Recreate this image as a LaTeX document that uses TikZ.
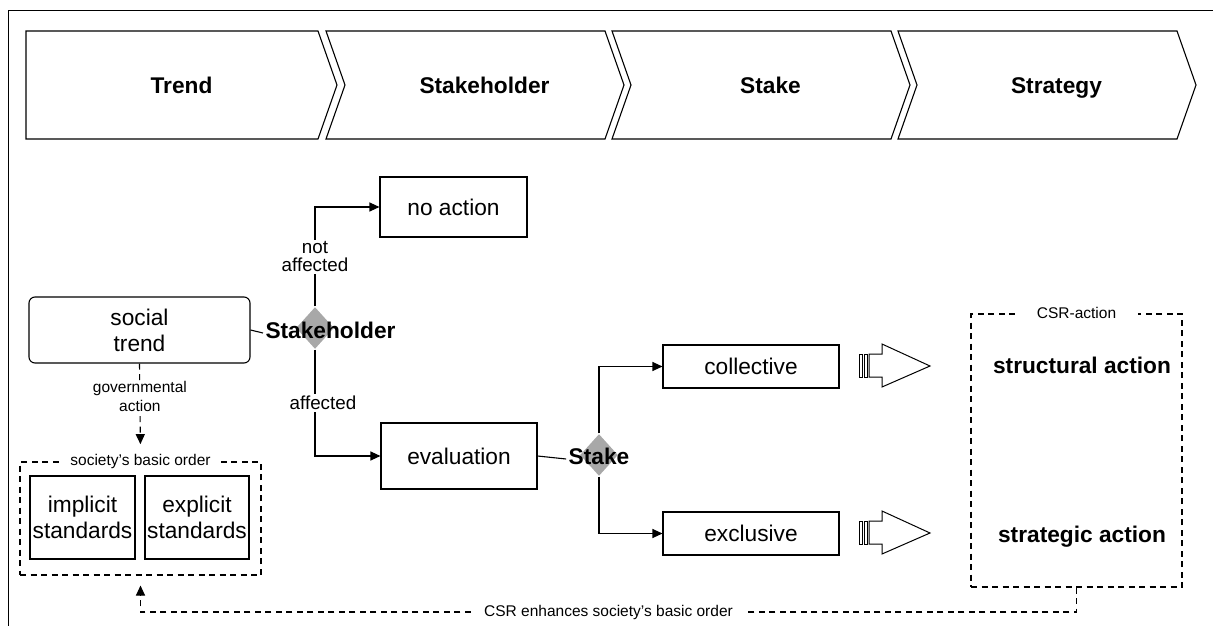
\documentclass[tikz,border=0pt]{standalone}
\usepackage{fontspec}
\setmainfont{Liberation Sans}
\usepackage{tikz}
\usetikzlibrary{arrows.meta,shapes.geometric}

\begin{document}
\begin{tikzpicture}[x=1pt,y=-1pt,>={Triangle[length=10pt,width=9pt]},
                    line width=1.1pt]
  \tikzstyle{box}=[draw, anchor=center, inner sep=0pt, align=center,
                   font=\fontsize{22.7}{26}\selectfont]
  \tikzstyle{frame}=[draw, dash pattern=on 6pt off 4.5pt, inner sep=0pt]
  \tikzstyle{lab}=[fill=white, anchor=center, align=center, inner sep=2pt,
                   font=\fontsize{18.8}{18}\selectfont]
  \tikzstyle{small}=[fill=white, anchor=center, align=center, inner sep=1pt,
                     font=\fontsize{15.5}{18.5}\selectfont]
  \tikzstyle{head}=[anchor=center, inner sep=2pt, text height=16.5pt, text depth=4.8pt,
                    font=\bfseries\fontsize{22.7}{26}\selectfont]
  \tikzstyle{decision}=[diamond, fill=black!34, minimum width=38pt,
                        minimum height=42pt, inner sep=0pt]
  \tikzstyle{flow}=[->]
  \tikzstyle{dflow}=[->, dash pattern=on 6pt off 4.5pt]

  \useasboundingbox (0,0) rectangle (1213,626);
  \draw[line width=1pt] (8,626) -- (8,11) -- (1213,11);

  \foreach \xl/\xr/\nd/\lab/\nm in {26/318/0/Trend/trend,
      326/605/19/Stakeholder/sth, 612/891/19/Stake/stk, 898/1177/19/Strategy/str} {
    \draw (\xl,31) -- (\xr,31) -- (\xr+19,85) -- (\xr,139) -- (\xl,139)
          -- (\xl+\nd,85) -- cycle;
    \node[head] (\nm) at ({(\xl+\nd+\xr+19)/2},87.5) {\lab};
  }

  \node[box, rounded corners=6pt, minimum width=221pt, minimum height=66pt]
       (social) at (139.5,330) {social\\trend};
  \node[decision] (dsth) at (315,328) {};
  \node[head] (sthlab) at (330.5,333) {Stakeholder};
  \node[box, minimum width=147pt, minimum height=60pt] (noaction) at (453.5,207) {no action};
  \node[box, minimum width=156pt, minimum height=66pt] (evaluation) at (459,456) {evaluation};
  \node[decision] (dstk) at (599,455) {};
  \node[head] (stklab) at (599,459) {Stake};
  \node[box, minimum width=176pt, minimum height=43pt] (collective) at (751,366.5) {collective};
  \node[box, minimum width=176pt, minimum height=43pt] (exclusive) at (751,533.5) {exclusive};

  \node[frame, minimum width=241pt, minimum height=113pt] (sbo) at (140.5,518.5) {};
  \node[small, inner xsep=7pt] (sbolab) at (sbo.north) {society's basic order};
  \node[box, minimum width=105pt, minimum height=83pt] (implicit) at (82.5,517.5) {implicit\\standards};
  \node[box, minimum width=104pt, minimum height=83pt] (explicit) at (197,517.5) {explicit\\standards};

  \node[frame, minimum width=211pt, minimum height=273pt] (csr) at (1076.5,450.5) {};
  \node[small, inner xsep=22pt] (csrlab) at (csr.north) {CSR-action};
  \node[head] (structural) at (1082,368) {structural action};
  \node[head] (strategic) at (1082,537) {strategic action};

  \draw (social.east) -- (sthlab.west);
  \draw[flow] (dsth.north) -- node[lab] {not\\affected} (dsth.north |- noaction.west)
              -- (noaction.west);
  \draw[flow] (dsth.south) -- node[lab, xshift=8pt] {affected} (dsth.south |- evaluation.west)
              -- (evaluation.west);
  \draw (evaluation.east) -- (stklab.west);
  \draw[flow] (dstk.north) |- (collective.west);
  \draw[flow] (dstk.south) |- (exclusive.west);

  \foreach \ya in {366,533} {
    \draw[line width=1pt] (859,\ya-12) rectangle (862,\ya+11);
    \draw[line width=1pt] (864,\ya-12) rectangle (867,\ya+11);
    \draw[line width=1pt] (869,\ya-12) -- (882,\ya-12) -- (882,\ya-22) -- (930,\ya)
          -- (882,\ya+21) -- (882,\ya+11) -- (869,\ya+11) -- cycle;
  }

  \draw[dflow, shorten >=8.5pt] (social.south) -- node[small, pos=0.37] {governmental\\action}
        (sbolab.north);
  \coordinate (csrbend) at (1076.5,612);
  \draw[dflow, shorten >=10pt] (csr.south) -- (csrbend) -| node[small, pos=0.25, inner xsep=13pt]
        {CSR enhances society's basic order} (sbo.south);
\end{tikzpicture}
\end{document}
